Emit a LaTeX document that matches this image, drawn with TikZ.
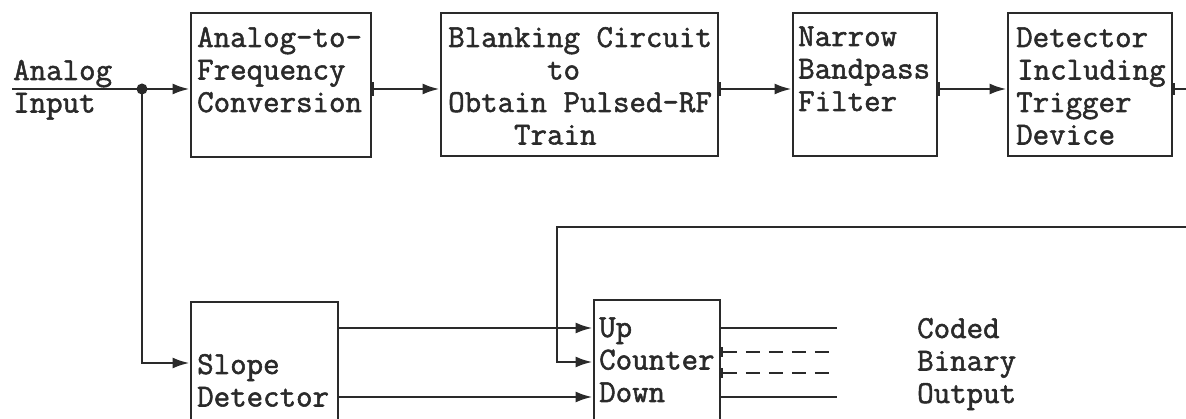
\documentclass[tikz,border=0pt]{standalone}
\usepackage{fontspec}
\newfontfamily\typew{Latin Modern Mono}[BoldFont={Latin Modern Mono}, BoldFeatures={FakeBold=1.6}]
\usetikzlibrary{arrows.meta}
\definecolor{ink}{HTML}{2A2A2A}
\newcommand{\tlines}[1]{\vtop{\baselineskip=32.5pt\lineskiplimit=-100pt #1}}
\begin{document}
\begin{tikzpicture}[x=1pt,y=-1pt,
  blk/.style={draw=ink, line width=2.8pt, inner sep=0pt},
  txt/.style={inner sep=0pt, anchor=base west, text=ink, font=\typew\bfseries\fontsize{32pt}{32.5pt}\selectfont},
  wire/.style={draw=ink, line width=2.6pt},
  conn/.style={wire, -{Latex[length=17pt,width=11pt]}},
  tconn/.style={wire, {Bar[width=14pt,line width=2pt]}-{Latex[length=17pt,width=11pt]}}
]
\useasboundingbox (0,0) rectangle (1186,419);
\clip (0,0) rectangle (1186,419);
\fill[white] (0,0) rectangle (1186,419);

% boxes
\node[blk, minimum width=180pt, minimum height=144pt] (b1) at (281,85) {};
\node[blk, minimum width=277pt, minimum height=143pt] (b2) at (579.5,84.5) {};
\node[blk, minimum width=144pt, minimum height=143pt] (b3) at (865,84.5) {};
\node[blk, minimum width=164pt, minimum height=143pt] (b4) at (1090,84.5) {};
\node[blk, minimum width=147pt, minimum height=150pt] (slope) at (264.5,377) {};
\node[blk, minimum width=126pt, minimum height=150pt] (counter) at (657,375) {};

% texts
\node[txt] (tin) at (13,80) {\tlines{\hbox{Analog}\hbox{Input}}};
\node[txt] (t1) at (197,47) {\tlines{\hbox{Analog-to-}\hbox{Frequency}\hbox{Conversion}}};
\node[txt] (t2) at (448,47) {\tlines{\hbox{Blanking Circuit}\hbox{\phantom{xxxxxx}to}\hbox{Obtain Pulsed-RF}\hbox{\phantom{xxxx}Train}}};
\node[txt] (t3) at (798,46) {\tlines{\hbox{Narrow}\hbox{Bandpass}\hbox{Filter}}};
\node[txt] (t4) at (1016,47) {\tlines{\hbox{Detector}\hbox{\hspace{1pt}Including}\hbox{Trigger}\hbox{Device}}};
\node[txt] (t5) at (197,374) {\tlines{\hbox{Slope}\hbox{Detector}}};
\node[txt] (t6) at (599,337) {\tlines{\hbox{Up}\hbox{Counter}\hbox{Down}}};
\node[txt] (tout) at (917,338) {\tlines{\hbox{Coded}\hbox{Binary}\hbox{Output}}};

% coordinates
\coordinate (row) at (0,89);
\coordinate (in) at (12,89);
\coordinate (split) at (142,89);
\coordinate (sl) at (0,363);
\coordinate (e1) at (1186,89);
\coordinate (fb) at (1186,227);
\coordinate (fbx) at (557,227);
\coordinate (cy) at (0,362);
\coordinate (up) at (0,328);
\coordinate (dn) at (0,397);
\coordinate (o1) at (837,328);
\coordinate (o2) at (835,352);
\coordinate (o3) at (835,373);
\coordinate (o4) at (837,397);

% connectors
\draw[conn] (in) -- (b1.west |- row);
\fill[ink] (split) circle (5.5pt);
\draw[conn] (split) |- (slope.west |- sl);
\draw[tconn] (b1.east |- row) -- (b2.west |- row);
\draw[tconn] (b2.east |- row) -- (b3.west |- row);
\draw[tconn] (b3.east |- row) -- (b4.west |- row);
\draw[wire, {Bar[width=12pt,line width=2pt]}-] (b4.east |- row) -- (e1);
\draw[conn] (fb) -- (fbx) |- (counter.west |- cy);
\draw[conn] (slope.east |- up) -- (counter.west |- up);
\draw[conn] (slope.east |- dn) -- (counter.west |- dn);
\draw[wire] (counter.east |- o1) -- (o1);
\draw[wire] (counter.east |- o4) -- (o4);
\draw[wire, dash pattern=on 14pt off 9pt, {Bar[width=10pt,line width=2pt]}-] (counter.east |- o2) -- (o2);
\draw[wire, dash pattern=on 14pt off 9pt, {Bar[width=10pt,line width=2pt]}-] (counter.east |- o3) -- (o3);
\end{tikzpicture}
\end{document}
